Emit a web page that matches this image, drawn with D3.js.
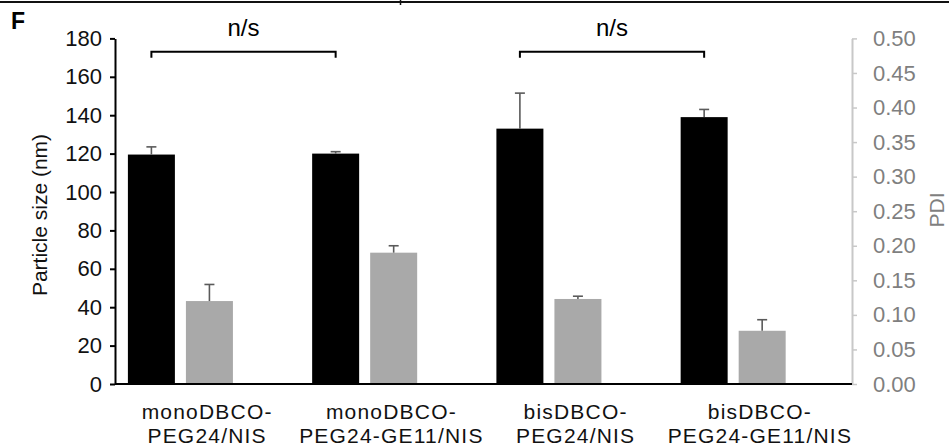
<!DOCTYPE html>
<html>
<head>
<meta charset="utf-8">
<script src="https://cdn.jsdelivr.net/npm/d3@7"></script>
<style>
  body { margin: 0; background: #fff; }
  svg { display: block; font-family: Arial, "Liberation Sans", sans-serif; }
</style>
</head>
<body>
<svg id="chart" width="949" height="447"></svg>
<script>
// data
const categories = [
  ["monoDBCO-", "PEG24/NIS"],
  ["monoDBCO-", "PEG24-GE11/NIS"],
  ["bisDBCO-", "PEG24/NIS"],
  ["bisDBCO-", "PEG24-GE11/NIS"]
];
const sizeValues = [119.5, 120, 133, 139];
const sizeErrors = [4, 1, 18.5, 4];
const pdiValues = [0.12, 0.19, 0.123, 0.077];
const pdiErrors = [0.024, 0.01, 0.004, 0.016];
const sizeTicks = [0, 20, 40, 60, 80, 100, 120, 140, 160, 180];
const pdiTicks = [0, 0.05, 0.1, 0.15, 0.2, 0.25, 0.3, 0.35, 0.4, 0.45, 0.5];
// significance brackets: [from group, to group, label]
const brackets = [[0, 1, "n/s"], [2, 3, "n/s"]];

const svg = d3.select("#chart");
const width = 949, height = 447;
const margin = { top: 38.4, right: 97, bottom: 63, left: 115 };

const idx = categories.map((d, i) => i);

// Scales
const x = d3.scaleBand()
  .domain(idx)
  .range([margin.left, width - margin.right]);

const inner = d3.scaleBand()
  .domain(["size", "pdi"])
  .range([x.bandwidth() * 0.07, x.bandwidth() * 0.64])
  .paddingInner(0.19);

const y = d3.scaleLinear()
  .domain([0, 180])
  .range([height - margin.bottom, margin.top]);

const y2 = d3.scaleLinear()
  .domain([0, 0.5])
  .range([height - margin.bottom, margin.top]);

// top frame line
svg.append("line")
  .attr("x1", 0).attr("x2", width)
  .attr("y1", 2).attr("y2", 2)
  .attr("stroke", "#111").attr("stroke-width", 2);
svg.append("line")
  .attr("x1", 400.5).attr("x2", 400.5)
  .attr("y1", 0).attr("y2", 5)
  .attr("stroke", "#111").attr("stroke-width", 1.5);

// panel letter
svg.append("text")
  .attr("x", 11).attr("y", 29)
  .attr("font-size", 23).attr("font-weight", "bold")
  .text("F");

// Left axis
const gy = svg.append("g")
  .attr("transform", `translate(${margin.left},0)`)
  .call(d3.axisLeft(y).tickValues(sizeTicks).tickSize(5).tickPadding(8).tickSizeOuter(0));
gy.select(".domain").attr("stroke", "#000").attr("stroke-width", 2);
gy.selectAll(".tick line").attr("stroke", "#000").attr("stroke-width", 2);
gy.selectAll(".tick text").attr("font-size", 22).attr("fill", "#111").attr("font-family", "Arial, 'Liberation Sans', sans-serif");

// Right axis
const gy2 = svg.append("g")
  .attr("transform", `translate(${width - margin.right},0)`)
  .call(d3.axisRight(y2).tickValues(pdiTicks).tickFormat(d3.format(".2f")).tickSize(5).tickPadding(16).tickSizeOuter(0));
gy2.select(".domain").attr("stroke", "#c8c8c8").attr("stroke-width", 2);
gy2.selectAll(".tick line").attr("stroke", "#c8c8c8").attr("stroke-width", 1.5);
gy2.selectAll(".tick text").attr("font-size", 22).attr("fill", "#7f7f7f").attr("font-family", "Arial, 'Liberation Sans', sans-serif");

// Bars: particle size (black)
svg.append("g").selectAll("rect")
  .data(idx)
  .join("rect")
  .attr("x", i => x(i) + inner("size"))
  .attr("width", inner.bandwidth())
  .attr("y", i => y(sizeValues[i]))
  .attr("height", i => y(0) - y(sizeValues[i]))
  .attr("fill", "#000");

// Bars: PDI (gray)
svg.append("g").selectAll("rect")
  .data(idx)
  .join("rect")
  .attr("x", i => x(i) + inner("pdi"))
  .attr("width", inner.bandwidth())
  .attr("y", i => y2(pdiValues[i]))
  .attr("height", i => y2(0) - y2(pdiValues[i]))
  .attr("fill", "#a9a9a9");

// Error bars
function errorBars(key, values, errors, scale) {
  const g = svg.append("g").attr("stroke", "#5a5a5a").attr("stroke-width", 1.6);
  idx.forEach(i => {
    const cx = x(i) + inner(key) + inner.bandwidth() / 2;
    const top = scale(values[i] + errors[i]);
    g.append("line")
      .attr("x1", cx).attr("x2", cx)
      .attr("y1", scale(values[i])).attr("y2", top);
    g.append("line")
      .attr("x1", cx - 5).attr("x2", cx + 5)
      .attr("y1", top).attr("y2", top);
  });
}
errorBars("size", sizeValues, sizeErrors, y);
errorBars("pdi", pdiValues, pdiErrors, y2);

// X axis baseline
svg.append("line")
  .attr("x1", margin.left).attr("x2", width - margin.right)
  .attr("y1", y(0)).attr("y2", y(0))
  .attr("stroke", "#000").attr("stroke-width", 2);

// Category labels
const labels = svg.append("g")
  .attr("font-size", 21)
  .attr("letter-spacing", 1.2)
  .attr("text-anchor", "middle")
  .attr("fill", "#111");
idx.forEach(i => {
  const t = labels.append("text")
    .attr("x", x(i) + x.bandwidth() / 2)
    .attr("y", 419);
  t.append("tspan").text(categories[i][0]);
  t.append("tspan")
    .attr("x", x(i) + x.bandwidth() / 2)
    .attr("dy", 24)
    .text(categories[i][1]);
});

// Significance brackets
brackets.forEach(([a, b, label]) => {
  const xa = x(a) + inner("size") + inner.bandwidth() / 2;
  const xb = x(b) + inner("size") + inner.bandwidth() / 2;
  const yb = y(173);
  svg.append("path")
    .attr("d", `M${xa},${yb + 6}V${yb}H${xb}V${yb + 6}`)
    .attr("fill", "none")
    .attr("stroke", "#000")
    .attr("stroke-width", 2);
  svg.append("text")
    .attr("x", (xa + xb) / 2)
    .attr("y", 36)
    .attr("text-anchor", "middle")
    .attr("font-size", 24)
    .text(label);
});

// Y-axis labels
svg.append("text")
  .attr("transform", "rotate(-90)")
  .attr("x", -215)
  .attr("y", 47)
  .attr("text-anchor", "middle")
  .attr("font-size", 21)
  .attr("fill", "#111")
  .text("Particle size (nm)");

svg.append("text")
  .attr("transform", "rotate(-90)")
  .attr("x", -210)
  .attr("y", 944)
  .attr("text-anchor", "middle")
  .attr("font-size", 21)
  .attr("fill", "#7f7f7f")
  .text("PDI");
</script>
</body>
</html>
